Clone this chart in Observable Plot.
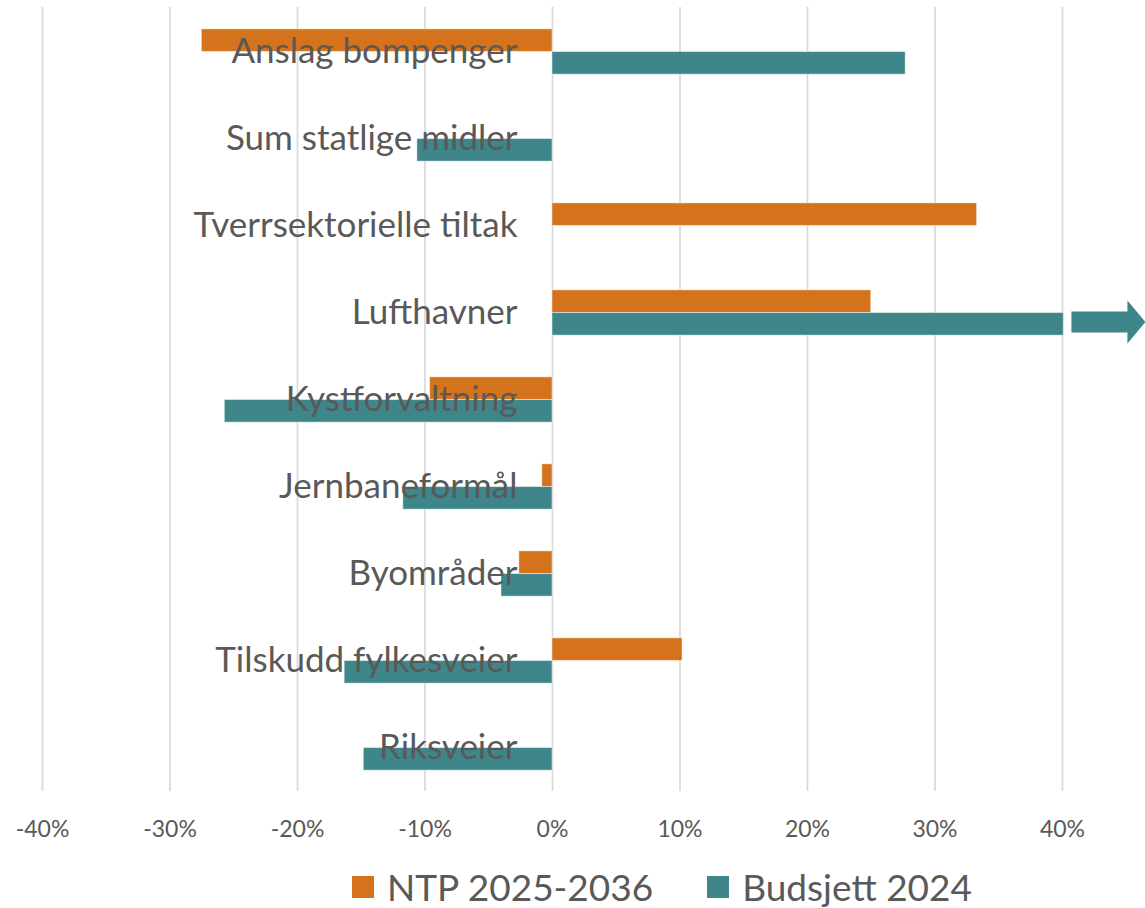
<!DOCTYPE html>
<html>
<head>
<meta charset="utf-8">
<script src="https://cdn.jsdelivr.net/npm/d3@7"></script>
<script src="https://cdn.jsdelivr.net/npm/@observablehq/plot@0.6"></script>
<style>
  html, body { margin: 0; padding: 0; background: #fff; }
  body { width: 1145px; height: 908px; overflow: hidden; font-family: Lato, "Noto Sans", sans-serif; }
  #legend { position: absolute; top: 864px; left: 352px; display: flex; align-items: center; color: #595959; font-size: 37px; white-space: nowrap; }
  #legend .sw { width: 22px; height: 22px; display: inline-block; margin-right: 13px; }
  #legend .item { display: flex; align-items: center; margin-right: 54px; }
</style>
</head>
<body>
<div id="chart"></div>
<div id="legend"></div>
<script>
// Categories, top to bottom
const categories = [
  "Anslag bompenger",
  "Sum statlige midler",
  "Tverrsektorielle tiltak",
  "Lufthavner",
  "Kystforvaltning",
  "Jernbaneformål",
  "Byområder",
  "Tilskudd fylkesveier",
  "Riksveier"
];
const seriesNames = ["NTP 2025-2036", "Budsjett 2024"];
const seriesColors = ["#D4731B", "#3E868A"];
// Percent change (null = no bar)
const ntpValues = [-27.5, null, 33.3, 25.0, -9.6, -0.8, -2.6, 10.2, null];
// Lufthavner exceeds the axis (shown clipped at 40 % with an arrow)
const budsjettValues = [27.7, -10.6, null, 40.1, -25.7, -11.7, -4.0, -16.3, -14.8];
const xTicks = [-40, -30, -20, -10, 0, 10, 20, 30, 40];
const overflowCategory = "Lufthavner";
const overflowStart = 40.7;

const ntpData = categories.map((c, i) => ({category: c, value: ntpValues[i]})).filter(d => d.value != null);
const budData = categories.map((c, i) => ({category: c, value: budsjettValues[i]})).filter(d => d.value != null);

const bandH = 784 / categories.length;
const barH = 22.7;
const half = bandH / 2;

const arrowShape = {
  draw(context, l) {
    const head = 18, sw = 10.5, hw = 21.5;
    context.moveTo(-sw, 0);
    context.lineTo(-sw, -(l - head));
    context.lineTo(-hw, -(l - head));
    context.lineTo(0, -l);
    context.lineTo(hw, -(l - head));
    context.lineTo(sw, -(l - head));
    context.lineTo(sw, 0);
    context.closePath();
  }
};

const chart = Plot.plot({
  width: 1145,
  height: 850,
  marginLeft: 42,
  marginRight: 83,
  marginTop: 7,
  marginBottom: 59,
  style: {fontFamily: "Lato, 'Noto Sans', sans-serif", color: "#595959", background: "#fff", overflow: "visible"},
  x: {domain: [-40, 40], ticks: xTicks, tickFormat: d => d + "%", label: null, tickSize: 0, tickPadding: 29},
  y: {domain: categories, padding: 0, axis: null},
  marks: [
    Plot.gridX(xTicks, {stroke: "#d9d9d9", strokeOpacity: 1, strokeWidth: 1.7}),
    Plot.barX(ntpData, {x: "value", y: "category", fill: seriesColors[0], insetTop: half - barH, insetBottom: half, stroke: "#fff", strokeOpacity: 0.45, strokeWidth: 1}),
    Plot.barX(budData, {x: "value", y: "category", fill: seriesColors[1], insetTop: half, insetBottom: half - barH, stroke: "#fff", strokeOpacity: 0.45, strokeWidth: 1}),
    Plot.vector([{category: overflowCategory, x: overflowStart}], {x: "x", y: "category", length: 74, rotate: 90, anchor: "start", shape: arrowShape, fill: seriesColors[1], stroke: "none", dy: 9}),
    Plot.text(categories, {x: () => 0, y: d => d, text: d => d, dx: -35, textAnchor: "end", fontSize: 35, fill: "#595959", lineAnchor: "middle"})
  ]
});
const xl = chart.querySelector("g[aria-label='x-axis tick label']");
if (xl) { xl.setAttribute("font-size", "23"); xl.setAttribute("fill", "#595959"); }
document.getElementById("chart").appendChild(chart);

const legend = document.getElementById("legend");
seriesNames.forEach((name, i) => {
  const item = document.createElement("div");
  item.className = "item";
  const sw = document.createElement("span");
  sw.className = "sw";
  sw.style.background = seriesColors[i];
  const t = document.createElement("span");
  t.textContent = name;
  item.appendChild(sw);
  item.appendChild(t);
  legend.appendChild(item);
});
</script>
</body>
</html>
